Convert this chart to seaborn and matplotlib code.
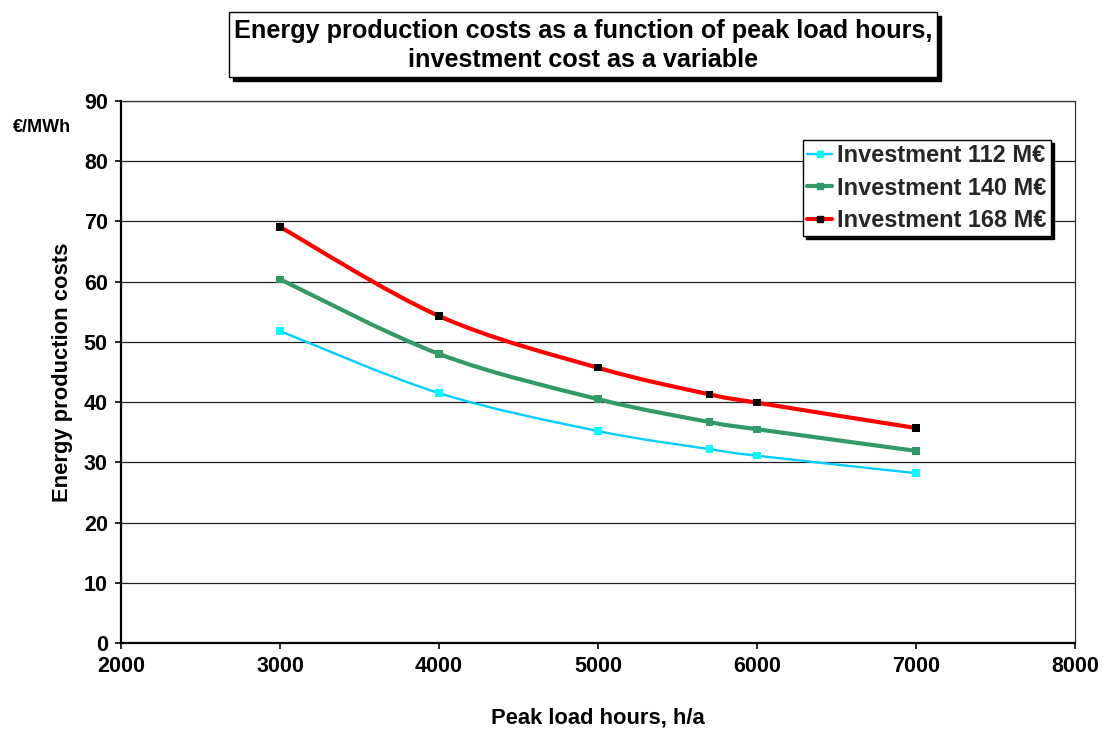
import numpy as np
import pandas as pd
import matplotlib
matplotlib.use("Agg")
import matplotlib.pyplot as plt
import seaborn as sns
from matplotlib.path import Path
from matplotlib.patches import PathPatch, Rectangle
from matplotlib.lines import Line2D

# ---- data ----
hours = [3000, 4000, 5000, 5700, 6000, 7000]
cost_112 = [51.8, 41.5, 35.2, 32.2, 31.1, 28.2]
cost_140 = [60.4, 48.0, 40.5, 36.7, 35.5, 31.9]
cost_168 = [69.1, 54.3, 45.7, 41.3, 39.9, 35.7]
series_names = ["Investment 112 M€", "Investment 140 M€", "Investment 168 M€"]
x_ticks = [2000, 3000, 4000, 5000, 6000, 7000, 8000]
y_ticks = [0, 10, 20, 30, 40, 50, 60, 70, 80, 90]
title_text = "Energy production costs as a function of peak load hours,\ninvestment cost as a variable"
x_label = "Peak load hours, h/a"
y_label = "Energy production costs"
unit_label = "€/MWh"

# ---- styles ----
line_colors = ["#00CCFF", "#339966", "#FF0000"]
marker_colors = ["#00FFFF", "#339966", "#000000"]
line_widths = [1.7, 3.0, 3.0]

df = pd.concat([
    pd.DataFrame({"hours": hours, "cost": c, "series": n})
    for c, n in zip([cost_112, cost_140, cost_168], series_names)
], ignore_index=True)

sns.set_theme(style="white")
plt.rcParams["font.family"] = ["Liberation Sans", "DejaVu Sans"]
plt.rcParams["font.weight"] = "bold"

fig = plt.figure(figsize=(11.04, 7.31), dpi=100)
ax = fig.add_axes([121 / 1104, 1 - 643 / 731, 954 / 1104, 542 / 731])


def smooth_path(xs, ys):
    pts = np.column_stack([xs, ys]).astype(float)
    n = len(pts)
    verts = [pts[0]]
    codes = [Path.MOVETO]
    for i in range(n - 1):
        p0 = pts[i - 1] if i > 0 else pts[i]
        p1 = pts[i]
        p2 = pts[i + 1]
        p3 = pts[i + 2] if i + 2 < n else pts[i + 1]
        c1 = p1 + (p2 - p0) / 6.0
        c2 = p2 - (p3 - p1) / 6.0
        verts += [c1, c2, p2]
        codes += [Path.CURVE4] * 3
    return Path(verts, codes)


for name, lc, lw in zip(series_names, line_colors, line_widths):
    sub = df[df["series"] == name]
    patch = PathPatch(smooth_path(sub["hours"].values, sub["cost"].values),
                      facecolor="none", edgecolor=lc, lw=lw, zorder=3,
                      capstyle="round", joinstyle="round")
    ax.add_patch(patch)

sns.scatterplot(data=df, x="hours", y="cost", hue="series",
                palette=dict(zip(series_names, marker_colors)),
                marker="s", s=28, linewidth=0, legend=False, ax=ax, zorder=4)

ax.set_xlim(2000, 8000)
ax.set_ylim(0, 90)
ax.set_xticks(x_ticks)
ax.set_yticks(y_ticks)
ax.tick_params(axis="both", which="major", labelsize=15.5, length=4.5, width=1.2,
               color="black", direction="out", pad=5.0, bottom=True, left=True)
for lbl in ax.get_xticklabels() + ax.get_yticklabels():
    lbl.set_fontweight("bold")
    lbl.set_color("black")

ax.grid(axis="y", color="#222222", lw=0.9, zorder=1)
ax.grid(axis="x", visible=False)
ax.set_axisbelow(True)
for side in ["left", "bottom"]:
    ax.spines[side].set_color("black")
    ax.spines[side].set_linewidth(1.6)
for side in ["top", "right"]:
    ax.spines[side].set_color("#333333")
    ax.spines[side].set_linewidth(0.9)
    ax.spines[side].set_visible(True)

ax.set_xlabel(x_label, fontsize=15.8, fontweight="bold", color="black", labelpad=22)
ax.set_ylabel(y_label, fontsize=15.8, fontweight="bold", color="black", labelpad=8)

fig.text(42 / 1104, 1 - 128 / 731, unit_label, fontsize=13, fontweight="bold",
         ha="center", va="center", color="black")

# legend
handles = [Line2D([0], [0], color=lc, lw=lw, marker="s", markersize=5,
                  markerfacecolor=mc, markeredgecolor=mc)
           for lc, mc, lw in zip(line_colors, marker_colors, line_widths)]
leg = ax.legend(handles, series_names, loc="upper left",
                bbox_to_anchor=((803 - 121) / 954, (643 - 140) / 542),
                prop={"size": 16.9, "weight": "bold"}, frameon=True,
                fancybox=False, shadow={"color": "black", "alpha": 1.0},
                edgecolor="black", framealpha=1, borderpad=0.18,
                labelspacing=0.4, handlelength=1.05, handletextpad=0.22,
                borderaxespad=0)
leg.get_frame().set_linewidth(1.0)
leg.set_zorder(10)

# title box with shadow
bx0, bx1, by0, by1 = 229, 937, 12, 77
fig.patches.append(Rectangle(((bx0 + 4) / 1104, 1 - (by1 + 4) / 731),
                             (bx1 - bx0) / 1104, (by1 - by0) / 731,
                             transform=fig.transFigure, facecolor="black",
                             edgecolor="black", zorder=1))
fig.patches.append(Rectangle((bx0 / 1104, 1 - by1 / 731),
                             (bx1 - bx0) / 1104, (by1 - by0) / 731,
                             transform=fig.transFigure, facecolor="white",
                             edgecolor="black", lw=1.0, zorder=2))
fig.text((bx0 + bx1) / 2 / 1104, 1 - ((by0 + by1) / 2 + 1) / 731, title_text,
         fontsize=18.2, fontweight="bold", ha="center", va="center",
         linespacing=1.22, color="black", zorder=3)

fig.savefig("out.png", dpi=100, facecolor="white")
